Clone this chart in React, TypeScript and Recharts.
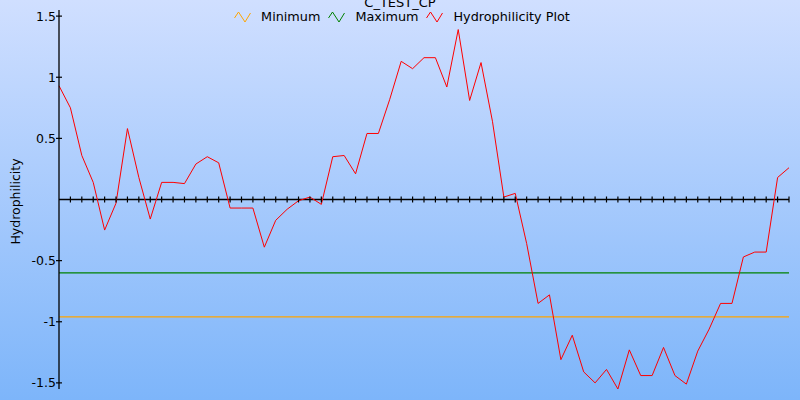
import { LineChart, Line, XAxis, YAxis } from 'recharts';

// hydrophilicity profile, one value per window position
const hydrophilicity = [
  0.93, 0.75, 0.36, 0.14, -0.25, -0.03, 0.58, 0.18, -0.16, 0.14,
  0.14, 0.13, 0.29, 0.35, 0.3, -0.07, -0.07, -0.07, -0.39, -0.17,
  -0.08, -0.01, 0.02, -0.04, 0.35, 0.36, 0.21, 0.54, 0.54, 0.82,
  1.13, 1.07, 1.16, 1.16, 0.92, 1.39, 0.81, 1.12, 0.64, 0.02,
  0.05, -0.36, -0.85, -0.78, -1.31, -1.11, -1.41, -1.5, -1.39, -1.55,
  -1.23, -1.44, -1.44, -1.21, -1.44, -1.51, -1.24, -1.06, -0.85, -0.85,
  -0.47, -0.43, -0.43, 0.18, 0.26,
];
const MINIMUM = -0.96;
const MAXIMUM = -0.6;
const yTicks = [-1.5, -1, -0.5, 0.5, 1, 1.5];
const yTickLabels = ['-1.5', '-1', '-0.5', '0.5', '1', '1.5'];

const legendItems = [
  { label: 'Minimum', color: '#ffa500' },
  { label: 'Maximum', color: '#008000' },
  { label: 'Hydrophilicity Plot', color: '#ff0000' },
];

const data = hydrophilicity.map((v, i) => ({
  idx: i,
  value: v,
  min: MINIMUM,
  max: MAXIMUM,
  zero: 0,
}));

const FONT = '"DejaVu Sans", Verdana, sans-serif';

function YTick({ x, y, payload }: any) {
  const i = yTicks.indexOf(payload.value);
  return (
    <g>
      <line x1={x - 3} x2={x + 3} y1={y} y2={y} stroke="#000" strokeWidth={1.2} />
      <text x={x - 3} y={y} dy={4.5} textAnchor="end" fontSize={12.5} fill="#000" fontFamily={FONT}>
        {i >= 0 ? yTickLabels[i] : payload.value}
      </text>
    </g>
  );
}

// tick marks along the zero line, one per data point
function ZeroTick({ cx, cy, index }: any) {
  if (index === 0) return <g key={index} />;
  return <line key={index} x1={cx} x2={cx} y1={cy - 3} y2={cy + 3} stroke="#000" strokeWidth={1.2} />;
}

function Zig({ color }: { color: string }) {
  return (
    <svg width={17} height={12} style={{ display: 'block' }}>
      <polyline points="0.5,7 4.5,1 11,11 16.5,2" fill="none" stroke={color} strokeWidth={1} />
    </svg>
  );
}

export default function App() {
  return (
    <div
      style={{
        position: 'absolute',
        left: 0,
        top: 0,
        width: 800,
        height: 400,
        overflow: 'hidden',
        background: 'linear-gradient(#d0dfff, #7db5fa)',
        fontFamily: FONT,
      }}
    >
      <div
        style={{
          position: 'absolute',
          top: -5,
          left: 0,
          width: 800,
          textAlign: 'center',
          fontSize: 13,
          color: '#000',
          lineHeight: '15px',
        }}
      >
        C_TEST_CP
      </div>
      <div
        style={{
          position: 'absolute',
          top: 9,
          left: 2,
          width: 800,
          display: 'flex',
          justifyContent: 'center',
          alignItems: 'center',
          fontSize: 12.8,
          lineHeight: '16px',
          color: '#000',
        }}
      >
        {legendItems.map((it) => (
          <div key={it.label} style={{ display: 'flex', alignItems: 'center', margin: '0 4px' }}>
            <Zig color={it.color} />
            <span style={{ marginLeft: 10 }}>{it.label}</span>
          </div>
        ))}
      </div>
      <LineChart
        width={800}
        height={400}
        data={data}
        margin={{ top: 10, right: 11, bottom: 11, left: 0 }}
        style={{ position: 'absolute', left: 0, top: 0 }}
      >
        <XAxis dataKey="idx" type="number" domain={[0, 64]} hide />
        <YAxis
          width={59}
          domain={[-1.55, 1.55]}
          allowDataOverflow
          ticks={yTicks}
          interval={0}
          tickSize={0}
          tickMargin={0}
          tickLine={false}
          tick={<YTick />}
          axisLine={{ stroke: '#000', strokeWidth: 1.3 }}
          label={({ viewBox }: any) => (
            <text
              transform={`translate(15, ${viewBox.y + viewBox.height / 2 + 2}) rotate(-90)`}
              textAnchor="middle"
              dominantBaseline="central"
              fontSize={12.5}
              fontFamily={FONT}
              fill="#000"
            >
              Hydrophilicity
            </text>
          )}
        />
        <Line
          dataKey="zero"
          stroke="#000"
          strokeWidth={1.5}
          dot={<ZeroTick />}
          activeDot={false}
          legendType="none"
          isAnimationActive={false}
        />
        <Line dataKey="min" name="Minimum" stroke="#ffa500" strokeWidth={1.3} dot={false} isAnimationActive={false} />
        <Line dataKey="max" name="Maximum" stroke="#008000" strokeWidth={1.2} dot={false} isAnimationActive={false} />
        <Line
          dataKey="value"
          name="Hydrophilicity Plot"
          type="linear"
          stroke="#ff0000"
          strokeWidth={1}
          dot={false}
          isAnimationActive={false}
        />
      </LineChart>
    </div>
  );
}
